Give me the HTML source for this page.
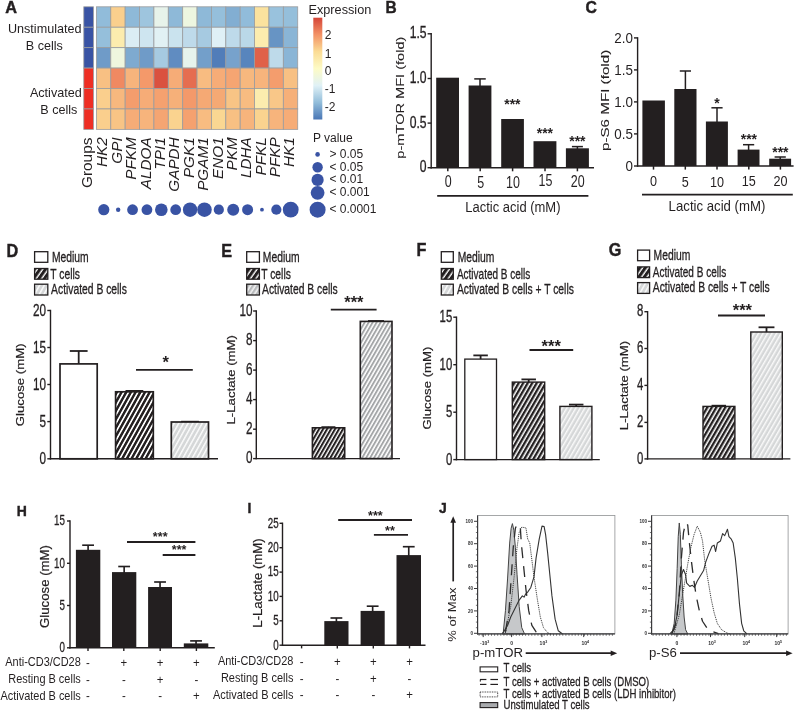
<!DOCTYPE html>
<html lang="en"><head><meta charset="utf-8"><title>Figure</title>
<style>html,body{margin:0;padding:0;background:#fff}svg{display:block}text{font-family:"Liberation Sans",Arial,sans-serif}</style>
</head><body>
<svg width="797" height="710" viewBox="0 0 797 710" font-family='"Liberation Sans", Arial, sans-serif' fill="#231f20">
<defs>
<pattern id="hk" width="3.45" height="10" patternUnits="userSpaceOnUse" patternTransform="rotate(30)"><rect width="3.45" height="10" fill="#fff"/><rect width="2.05" height="10" fill="#231f20"/></pattern>
<pattern id="hkF" width="3.9" height="10" patternUnits="userSpaceOnUse" patternTransform="rotate(30)"><rect width="3.9" height="10" fill="#fff"/><rect width="2.35" height="10" fill="#231f20"/></pattern>
<pattern id="hgF" width="3.9" height="10" patternUnits="userSpaceOnUse" patternTransform="rotate(30)"><rect width="3.9" height="10" fill="#d5d7d8"/><rect width="1.45" height="10" fill="#fafafa"/></pattern>
<pattern id="hmL" width="3.9" height="10" patternUnits="userSpaceOnUse" patternTransform="rotate(33)"><rect width="3.9" height="10" fill="#f2f2f2"/><rect width="2.3" height="10" fill="#b9bbbd"/></pattern>
<pattern id="hkL" x="1.2" width="4.5" height="10" patternUnits="userSpaceOnUse" patternTransform="rotate(35)"><rect width="4.5" height="10" fill="#fff"/><rect width="3.1" height="10" fill="#231f20"/></pattern>
<pattern id="hkD" width="4.1" height="10" patternUnits="userSpaceOnUse" patternTransform="rotate(29)"><rect width="4.1" height="10" fill="#fff"/><rect width="2.45" height="10" fill="#231f20"/></pattern>
<pattern id="hg" width="3.45" height="10" patternUnits="userSpaceOnUse" patternTransform="rotate(30)"><rect width="3.45" height="10" fill="#d6d8d9"/><rect width="1.0" height="10" fill="#f7f7f7"/></pattern>
<pattern id="hgD" width="4.1" height="10" patternUnits="userSpaceOnUse" patternTransform="rotate(29)"><rect width="4.1" height="10" fill="#d5d7d8"/><rect width="1.5" height="10" fill="#fafafa"/></pattern>
<pattern id="hm" width="3.45" height="10" patternUnits="userSpaceOnUse" patternTransform="rotate(30)"><rect width="3.45" height="10" fill="#fff"/><rect width="1.9" height="10" fill="#a4a6a8"/></pattern>
<linearGradient id="cb" x1="0" y1="0" x2="0" y2="1">
<stop offset="0" stop-color="#d54538"/><stop offset="0.1667" stop-color="#f39266"/><stop offset="0.3333" stop-color="#fbdc95"/><stop offset="0.5" stop-color="#fdfbc6"/><stop offset="0.6667" stop-color="#e0f1f6"/><stop offset="0.8333" stop-color="#92bdda"/><stop offset="1" stop-color="#4976b5"/>
</linearGradient>
</defs>
<text transform="translate(5.20 12.60)" font-size="16.3" font-weight="bold" stroke="#231f20" stroke-width="0.45">A</text>
<rect x="96.40" y="6.80" width="14.38" height="20.43" fill="#91bcda" stroke="#9a9c9e" stroke-width="0.8"/>
<rect x="110.78" y="6.80" width="14.38" height="20.43" fill="#facf8d" stroke="#9a9c9e" stroke-width="0.8"/>
<rect x="125.16" y="6.80" width="14.38" height="20.43" fill="#8eb9d8" stroke="#9a9c9e" stroke-width="0.8"/>
<rect x="139.54" y="6.80" width="14.38" height="20.43" fill="#9ec5de" stroke="#9a9c9e" stroke-width="0.8"/>
<rect x="153.92" y="6.80" width="14.38" height="20.43" fill="#e7f3ea" stroke="#9a9c9e" stroke-width="0.8"/>
<rect x="168.30" y="6.80" width="14.38" height="20.43" fill="#8eb9d8" stroke="#9a9c9e" stroke-width="0.8"/>
<rect x="182.68" y="6.80" width="14.38" height="20.43" fill="#edf6e0" stroke="#9a9c9e" stroke-width="0.8"/>
<rect x="197.06" y="6.80" width="14.38" height="20.43" fill="#8eb9d8" stroke="#9a9c9e" stroke-width="0.8"/>
<rect x="211.44" y="6.80" width="14.38" height="20.43" fill="#95bfdb" stroke="#9a9c9e" stroke-width="0.8"/>
<rect x="225.82" y="6.80" width="14.38" height="20.43" fill="#82aed2" stroke="#9a9c9e" stroke-width="0.8"/>
<rect x="240.20" y="6.80" width="14.38" height="20.43" fill="#91bcda" stroke="#9a9c9e" stroke-width="0.8"/>
<rect x="254.58" y="6.80" width="14.38" height="20.43" fill="#fbe29e" stroke="#9a9c9e" stroke-width="0.8"/>
<rect x="268.96" y="6.80" width="14.38" height="20.43" fill="#99c2dd" stroke="#9a9c9e" stroke-width="0.8"/>
<rect x="283.34" y="6.80" width="14.38" height="20.43" fill="#95bfdb" stroke="#9a9c9e" stroke-width="0.8"/>
<rect x="96.40" y="27.23" width="14.38" height="20.43" fill="#95bfdb" stroke="#9a9c9e" stroke-width="0.8"/>
<rect x="110.78" y="27.23" width="14.38" height="20.43" fill="#fcecae" stroke="#9a9c9e" stroke-width="0.8"/>
<rect x="125.16" y="27.23" width="14.38" height="20.43" fill="#dbedf4" stroke="#9a9c9e" stroke-width="0.8"/>
<rect x="139.54" y="27.23" width="14.38" height="20.43" fill="#cee5f0" stroke="#9a9c9e" stroke-width="0.8"/>
<rect x="153.92" y="27.23" width="14.38" height="20.43" fill="#e1f1f4" stroke="#9a9c9e" stroke-width="0.8"/>
<rect x="168.30" y="27.23" width="14.38" height="20.43" fill="#cae3ee" stroke="#9a9c9e" stroke-width="0.8"/>
<rect x="182.68" y="27.23" width="14.38" height="20.43" fill="#bedaea" stroke="#9a9c9e" stroke-width="0.8"/>
<rect x="197.06" y="27.23" width="14.38" height="20.43" fill="#a6cae1" stroke="#9a9c9e" stroke-width="0.8"/>
<rect x="211.44" y="27.23" width="14.38" height="20.43" fill="#dff0f6" stroke="#9a9c9e" stroke-width="0.8"/>
<rect x="225.82" y="27.23" width="14.38" height="20.43" fill="#bedaea" stroke="#9a9c9e" stroke-width="0.8"/>
<rect x="240.20" y="27.23" width="14.38" height="20.43" fill="#bad8e8" stroke="#9a9c9e" stroke-width="0.8"/>
<rect x="254.58" y="27.23" width="14.38" height="20.43" fill="#fcecae" stroke="#9a9c9e" stroke-width="0.8"/>
<rect x="268.96" y="27.23" width="14.38" height="20.43" fill="#6794c4" stroke="#9a9c9e" stroke-width="0.8"/>
<rect x="283.34" y="27.23" width="14.38" height="20.43" fill="#8ab5d6" stroke="#9a9c9e" stroke-width="0.8"/>
<rect x="96.40" y="47.66" width="14.38" height="20.43" fill="#6f9bc8" stroke="#9a9c9e" stroke-width="0.8"/>
<rect x="110.78" y="47.66" width="14.38" height="20.43" fill="#eff6de" stroke="#9a9c9e" stroke-width="0.8"/>
<rect x="125.16" y="47.66" width="14.38" height="20.43" fill="#7eaad0" stroke="#9a9c9e" stroke-width="0.8"/>
<rect x="139.54" y="47.66" width="14.38" height="20.43" fill="#6f9bc8" stroke="#9a9c9e" stroke-width="0.8"/>
<rect x="153.92" y="47.66" width="14.38" height="20.43" fill="#a6cae1" stroke="#9a9c9e" stroke-width="0.8"/>
<rect x="168.30" y="47.66" width="14.38" height="20.43" fill="#608cc1" stroke="#9a9c9e" stroke-width="0.8"/>
<rect x="182.68" y="47.66" width="14.38" height="20.43" fill="#e6f3ed" stroke="#9a9c9e" stroke-width="0.8"/>
<rect x="197.06" y="47.66" width="14.38" height="20.43" fill="#739fca" stroke="#9a9c9e" stroke-width="0.8"/>
<rect x="211.44" y="47.66" width="14.38" height="20.43" fill="#517db9" stroke="#9a9c9e" stroke-width="0.8"/>
<rect x="225.82" y="47.66" width="14.38" height="20.43" fill="#77a2cc" stroke="#9a9c9e" stroke-width="0.8"/>
<rect x="240.20" y="47.66" width="14.38" height="20.43" fill="#5885bd" stroke="#9a9c9e" stroke-width="0.8"/>
<rect x="254.58" y="47.66" width="14.38" height="20.43" fill="#e06149" stroke="#9a9c9e" stroke-width="0.8"/>
<rect x="268.96" y="47.66" width="14.38" height="20.43" fill="#bedaea" stroke="#9a9c9e" stroke-width="0.8"/>
<rect x="283.34" y="47.66" width="14.38" height="20.43" fill="#8ab5d6" stroke="#9a9c9e" stroke-width="0.8"/>
<rect x="96.40" y="68.09" width="14.38" height="20.43" fill="#f8c083" stroke="#9a9c9e" stroke-width="0.8"/>
<rect x="110.78" y="68.09" width="14.38" height="20.43" fill="#f08961" stroke="#9a9c9e" stroke-width="0.8"/>
<rect x="125.16" y="68.09" width="14.38" height="20.43" fill="#f7b47c" stroke="#9a9c9e" stroke-width="0.8"/>
<rect x="139.54" y="68.09" width="14.38" height="20.43" fill="#f4996a" stroke="#9a9c9e" stroke-width="0.8"/>
<rect x="153.92" y="68.09" width="14.38" height="20.43" fill="#da513f" stroke="#9a9c9e" stroke-width="0.8"/>
<rect x="168.30" y="68.09" width="14.38" height="20.43" fill="#f6ac77" stroke="#9a9c9e" stroke-width="0.8"/>
<rect x="182.68" y="68.09" width="14.38" height="20.43" fill="#e56d50" stroke="#9a9c9e" stroke-width="0.8"/>
<rect x="197.06" y="68.09" width="14.38" height="20.43" fill="#f8bc81" stroke="#9a9c9e" stroke-width="0.8"/>
<rect x="211.44" y="68.09" width="14.38" height="20.43" fill="#f6ac77" stroke="#9a9c9e" stroke-width="0.8"/>
<rect x="225.82" y="68.09" width="14.38" height="20.43" fill="#f5a572" stroke="#9a9c9e" stroke-width="0.8"/>
<rect x="240.20" y="68.09" width="14.38" height="20.43" fill="#f7b87e" stroke="#9a9c9e" stroke-width="0.8"/>
<rect x="254.58" y="68.09" width="14.38" height="20.43" fill="#f7b47c" stroke="#9a9c9e" stroke-width="0.8"/>
<rect x="268.96" y="68.09" width="14.38" height="20.43" fill="#f49d6d" stroke="#9a9c9e" stroke-width="0.8"/>
<rect x="283.34" y="68.09" width="14.38" height="20.43" fill="#f8c083" stroke="#9a9c9e" stroke-width="0.8"/>
<rect x="96.40" y="88.52" width="14.38" height="20.43" fill="#facf8d" stroke="#9a9c9e" stroke-width="0.8"/>
<rect x="110.78" y="88.52" width="14.38" height="20.43" fill="#f7b87e" stroke="#9a9c9e" stroke-width="0.8"/>
<rect x="125.16" y="88.52" width="14.38" height="20.43" fill="#f49d6d" stroke="#9a9c9e" stroke-width="0.8"/>
<rect x="139.54" y="88.52" width="14.38" height="20.43" fill="#f6ac77" stroke="#9a9c9e" stroke-width="0.8"/>
<rect x="153.92" y="88.52" width="14.38" height="20.43" fill="#f5a16f" stroke="#9a9c9e" stroke-width="0.8"/>
<rect x="168.30" y="88.52" width="14.38" height="20.43" fill="#f6b079" stroke="#9a9c9e" stroke-width="0.8"/>
<rect x="182.68" y="88.52" width="14.38" height="20.43" fill="#f4996a" stroke="#9a9c9e" stroke-width="0.8"/>
<rect x="197.06" y="88.52" width="14.38" height="20.43" fill="#f5a974" stroke="#9a9c9e" stroke-width="0.8"/>
<rect x="211.44" y="88.52" width="14.38" height="20.43" fill="#f5a974" stroke="#9a9c9e" stroke-width="0.8"/>
<rect x="225.82" y="88.52" width="14.38" height="20.43" fill="#f8c485" stroke="#9a9c9e" stroke-width="0.8"/>
<rect x="240.20" y="88.52" width="14.38" height="20.43" fill="#f8bc81" stroke="#9a9c9e" stroke-width="0.8"/>
<rect x="254.58" y="88.52" width="14.38" height="20.43" fill="#fcecae" stroke="#9a9c9e" stroke-width="0.8"/>
<rect x="268.96" y="88.52" width="14.38" height="20.43" fill="#f9c788" stroke="#9a9c9e" stroke-width="0.8"/>
<rect x="283.34" y="88.52" width="14.38" height="20.43" fill="#f6b079" stroke="#9a9c9e" stroke-width="0.8"/>
<rect x="96.40" y="108.95" width="14.38" height="20.43" fill="#facf8d" stroke="#9a9c9e" stroke-width="0.8"/>
<rect x="110.78" y="108.95" width="14.38" height="20.43" fill="#f8c485" stroke="#9a9c9e" stroke-width="0.8"/>
<rect x="125.16" y="108.95" width="14.38" height="20.43" fill="#f6ac77" stroke="#9a9c9e" stroke-width="0.8"/>
<rect x="139.54" y="108.95" width="14.38" height="20.43" fill="#f7b47c" stroke="#9a9c9e" stroke-width="0.8"/>
<rect x="153.92" y="108.95" width="14.38" height="20.43" fill="#f5a572" stroke="#9a9c9e" stroke-width="0.8"/>
<rect x="168.30" y="108.95" width="14.38" height="20.43" fill="#fad38f" stroke="#9a9c9e" stroke-width="0.8"/>
<rect x="182.68" y="108.95" width="14.38" height="20.43" fill="#f5a16f" stroke="#9a9c9e" stroke-width="0.8"/>
<rect x="197.06" y="108.95" width="14.38" height="20.43" fill="#f8bc81" stroke="#9a9c9e" stroke-width="0.8"/>
<rect x="211.44" y="108.95" width="14.38" height="20.43" fill="#fad792" stroke="#9a9c9e" stroke-width="0.8"/>
<rect x="225.82" y="108.95" width="14.38" height="20.43" fill="#f8c083" stroke="#9a9c9e" stroke-width="0.8"/>
<rect x="240.20" y="108.95" width="14.38" height="20.43" fill="#f7b47c" stroke="#9a9c9e" stroke-width="0.8"/>
<rect x="254.58" y="108.95" width="14.38" height="20.43" fill="#fad38f" stroke="#9a9c9e" stroke-width="0.8"/>
<rect x="268.96" y="108.95" width="14.38" height="20.43" fill="#f7b47c" stroke="#9a9c9e" stroke-width="0.8"/>
<rect x="283.34" y="108.95" width="14.38" height="20.43" fill="#f6ac77" stroke="#9a9c9e" stroke-width="0.8"/>
<rect x="83.80" y="6.80" width="9.60" height="20.43" fill="#3953a4" stroke="#9a9c9e" stroke-width="0.8"/>
<rect x="83.80" y="27.23" width="9.60" height="20.43" fill="#3953a4" stroke="#9a9c9e" stroke-width="0.8"/>
<rect x="83.80" y="47.66" width="9.60" height="20.43" fill="#3953a4" stroke="#9a9c9e" stroke-width="0.8"/>
<rect x="83.80" y="68.09" width="9.60" height="20.43" fill="#ee2e24" stroke="#9a9c9e" stroke-width="0.8"/>
<rect x="83.80" y="88.52" width="9.60" height="20.43" fill="#ee2e24" stroke="#9a9c9e" stroke-width="0.8"/>
<rect x="83.80" y="108.95" width="9.60" height="20.43" fill="#ee2e24" stroke="#9a9c9e" stroke-width="0.8"/>
<text transform="translate(44.70 33.00)" font-size="12.6" text-anchor="middle">Unstimulated</text>
<text transform="translate(44.30 49.80)" font-size="12.6" text-anchor="middle">B cells</text>
<text transform="translate(55.80 97.00)" font-size="12.6" text-anchor="middle">Activated</text>
<text transform="translate(58.80 114.10)" font-size="12.6" text-anchor="middle">B cells</text>
<text transform="translate(92.10 137.60) rotate(-90)" font-size="15.4" text-anchor="end">Groups</text>
<text transform="translate(107.49 137.30) rotate(-90)" font-size="15.3" text-anchor="end" font-style="italic">HK2</text>
<text transform="translate(121.87 137.30) rotate(-90)" font-size="15.3" text-anchor="end" font-style="italic">GPI</text>
<text transform="translate(136.25 137.30) rotate(-90)" font-size="15.3" text-anchor="end" font-style="italic">PFKM</text>
<text transform="translate(150.63 137.30) rotate(-90)" font-size="15.3" text-anchor="end" font-style="italic">ALDOA</text>
<text transform="translate(165.01 137.30) rotate(-90)" font-size="15.3" text-anchor="end" font-style="italic">TPI1</text>
<text transform="translate(179.39 137.30) rotate(-90)" font-size="15.3" text-anchor="end" font-style="italic">GAPDH</text>
<text transform="translate(193.77 137.30) rotate(-90)" font-size="15.3" text-anchor="end" font-style="italic">PGK1</text>
<text transform="translate(208.15 137.30) rotate(-90)" font-size="15.3" text-anchor="end" font-style="italic">PGAM1</text>
<text transform="translate(222.53 137.30) rotate(-90)" font-size="15.3" text-anchor="end" font-style="italic">ENO1</text>
<text transform="translate(236.91 137.30) rotate(-90)" font-size="15.3" text-anchor="end" font-style="italic">PKM</text>
<text transform="translate(251.29 137.30) rotate(-90)" font-size="15.3" text-anchor="end" font-style="italic">LDHA</text>
<text transform="translate(265.67 137.30) rotate(-90)" font-size="15.3" text-anchor="end" font-style="italic">PFKL</text>
<text transform="translate(280.05 137.30) rotate(-90)" font-size="15.3" text-anchor="end" font-style="italic">PFKP</text>
<text transform="translate(294.43 137.30) rotate(-90)" font-size="15.3" text-anchor="end" font-style="italic">HK1</text>
<circle cx="103.79" cy="209.70" r="5.60" fill="#3953a4"/>
<circle cx="118.17" cy="209.70" r="2.20" fill="#3953a4"/>
<circle cx="132.55" cy="209.70" r="5.40" fill="#3953a4"/>
<circle cx="146.93" cy="209.70" r="5.40" fill="#3953a4"/>
<circle cx="161.31" cy="209.70" r="6.30" fill="#3953a4"/>
<circle cx="175.69" cy="209.70" r="5.40" fill="#3953a4"/>
<circle cx="190.07" cy="209.70" r="7.20" fill="#3953a4"/>
<circle cx="204.45" cy="209.70" r="7.30" fill="#3953a4"/>
<circle cx="218.83" cy="209.70" r="5.10" fill="#3953a4"/>
<circle cx="233.21" cy="209.70" r="6.00" fill="#3953a4"/>
<circle cx="247.59" cy="209.70" r="5.50" fill="#3953a4"/>
<circle cx="261.97" cy="209.70" r="1.90" fill="#3953a4"/>
<circle cx="276.35" cy="209.70" r="5.10" fill="#3953a4"/>
<circle cx="290.73" cy="209.70" r="7.90" fill="#3953a4"/>
<text transform="translate(308.50 13.70)" font-size="12.7">Expression</text>
<rect x="313.30" y="17.70" width="9.00" height="101.80" fill="url(#cb)"/>
<text transform="translate(324.80 38.70)" font-size="12">2</text>
<text transform="translate(324.80 57.80)" font-size="12">1</text>
<text transform="translate(324.80 75.20)" font-size="12">0</text>
<text transform="translate(324.80 93.10)" font-size="12">-1</text>
<text transform="translate(324.80 110.50)" font-size="12">-2</text>
<text transform="translate(312.90 142.00)" font-size="12">P value</text>
<circle cx="317.60" cy="154.40" r="2.30" fill="#3953a4"/>
<text transform="translate(329.40 157.70)" font-size="12">&gt; 0.05</text>
<circle cx="317.60" cy="167.20" r="5.20" fill="#3953a4"/>
<text transform="translate(329.40 170.50)" font-size="12">&lt; 0.05</text>
<circle cx="317.60" cy="179.90" r="6.10" fill="#3953a4"/>
<text transform="translate(329.40 183.20)" font-size="12">&lt; 0.01</text>
<circle cx="317.60" cy="192.80" r="6.90" fill="#3953a4"/>
<text transform="translate(329.40 196.10)" font-size="12">&lt; 0.001</text>
<circle cx="317.60" cy="209.70" r="8.00" fill="#3953a4"/>
<text transform="translate(329.40 213.00)" font-size="12">&lt; 0.0001</text>
<text transform="translate(385.60 12.80) scale(0.95 1)" font-size="16.3" font-weight="bold" stroke="#231f20" stroke-width="0.45">B</text>
<line x1="430.50" y1="167.70" x2="594.00" y2="167.70" stroke="#231f20" stroke-width="1.5"/>
<line x1="431.20" y1="33.10" x2="431.20" y2="168.40" stroke="#231f20" stroke-width="1.4"/>
<line x1="427.60" y1="33.80" x2="431.20" y2="33.80" stroke="#231f20" stroke-width="1.4"/>
<text transform="translate(426.60 38.40) scale(0.77 1)" font-size="15.8" text-anchor="end" stroke="#231f20" stroke-width="0.32">1.5</text>
<line x1="427.60" y1="78.50" x2="431.20" y2="78.50" stroke="#231f20" stroke-width="1.4"/>
<text transform="translate(426.60 83.10) scale(0.77 1)" font-size="15.8" text-anchor="end" stroke="#231f20" stroke-width="0.32">1.0</text>
<line x1="427.60" y1="123.10" x2="431.20" y2="123.10" stroke="#231f20" stroke-width="1.4"/>
<text transform="translate(426.60 127.70) scale(0.77 1)" font-size="15.8" text-anchor="end" stroke="#231f20" stroke-width="0.32">0.5</text>
<line x1="427.60" y1="167.70" x2="431.20" y2="167.70" stroke="#231f20" stroke-width="1.4"/>
<text transform="translate(426.60 172.30) scale(0.77 1)" font-size="15.8" text-anchor="end" stroke="#231f20" stroke-width="0.32">0</text>
<text transform="translate(403.90 97.60) rotate(-90) scale(1 0.74)" font-size="14.6" text-anchor="middle" stroke="#231f20" stroke-width="0.12">p-mTOR MFI (fold)</text>
<rect x="436.20" y="77.70" width="22.80" height="90.00" fill="#231f20"/>
<rect x="468.60" y="85.50" width="22.80" height="82.20" fill="#231f20"/>
<rect x="501.20" y="119.00" width="22.70" height="48.70" fill="#231f20"/>
<rect x="533.50" y="141.20" width="22.90" height="26.50" fill="#231f20"/>
<rect x="565.90" y="148.30" width="23.00" height="19.40" fill="#231f20"/>
<line x1="480.00" y1="78.90" x2="480.00" y2="86.50" stroke="#231f20" stroke-width="1.5"/>
<line x1="474.25" y1="78.90" x2="485.75" y2="78.90" stroke="#231f20" stroke-width="1.5"/>
<line x1="577.40" y1="146.60" x2="577.40" y2="149.00" stroke="#231f20" stroke-width="1.5"/>
<line x1="571.90" y1="146.60" x2="582.90" y2="146.60" stroke="#231f20" stroke-width="1.5"/>
<line x1="447.80" y1="167.70" x2="447.80" y2="171.30" stroke="#231f20" stroke-width="1.5"/>
<text transform="translate(448.20 187.00) scale(0.8 1)" font-size="15.6" text-anchor="middle">0</text>
<line x1="480.20" y1="167.70" x2="480.20" y2="171.30" stroke="#231f20" stroke-width="1.5"/>
<text transform="translate(480.60 188.00) scale(0.8 1)" font-size="15.6" text-anchor="middle">5</text>
<line x1="512.60" y1="167.70" x2="512.60" y2="171.30" stroke="#231f20" stroke-width="1.5"/>
<text transform="translate(513.00 188.00) scale(0.8 1)" font-size="15.6" text-anchor="middle">10</text>
<line x1="545.00" y1="167.70" x2="545.00" y2="171.30" stroke="#231f20" stroke-width="1.5"/>
<text transform="translate(545.40 186.30) scale(0.8 1)" font-size="15.6" text-anchor="middle">15</text>
<line x1="577.40" y1="167.70" x2="577.40" y2="171.30" stroke="#231f20" stroke-width="1.5"/>
<text transform="translate(577.80 187.00) scale(0.8 1)" font-size="15.6" text-anchor="middle">20</text>
<text transform="translate(512.40 109.21)" font-size="14" text-anchor="middle" font-weight="bold">***</text>
<text transform="translate(544.90 137.81)" font-size="14" text-anchor="middle" font-weight="bold">***</text>
<text transform="translate(577.40 145.81)" font-size="14" text-anchor="middle" font-weight="bold">***</text>
<line x1="437.20" y1="195.80" x2="588.40" y2="195.80" stroke="#231f20" stroke-width="1.8"/>
<text transform="translate(512.90 212.40) scale(0.915 1)" font-size="14.2" text-anchor="middle">Lactic acid (mM)</text>
<text transform="translate(585.40 13.30) scale(0.97 1)" font-size="16.3" font-weight="bold" stroke="#231f20" stroke-width="0.45">C</text>
<line x1="636.90" y1="166.00" x2="793.60" y2="166.00" stroke="#231f20" stroke-width="1.5"/>
<line x1="637.60" y1="37.20" x2="637.60" y2="166.70" stroke="#231f20" stroke-width="1.4"/>
<line x1="634.00" y1="37.90" x2="637.60" y2="37.90" stroke="#231f20" stroke-width="1.4"/>
<text transform="translate(632.90 42.80) scale(0.88 1)" font-size="15.2" text-anchor="end">2.0</text>
<line x1="634.00" y1="69.90" x2="637.60" y2="69.90" stroke="#231f20" stroke-width="1.4"/>
<text transform="translate(632.90 74.80) scale(0.88 1)" font-size="15.2" text-anchor="end">1.5</text>
<line x1="634.00" y1="101.90" x2="637.60" y2="101.90" stroke="#231f20" stroke-width="1.4"/>
<text transform="translate(632.90 106.80) scale(0.88 1)" font-size="15.2" text-anchor="end">1.0</text>
<line x1="634.00" y1="133.90" x2="637.60" y2="133.90" stroke="#231f20" stroke-width="1.4"/>
<text transform="translate(632.90 138.80) scale(0.88 1)" font-size="15.2" text-anchor="end">0.5</text>
<line x1="634.00" y1="166.00" x2="637.60" y2="166.00" stroke="#231f20" stroke-width="1.4"/>
<text transform="translate(632.90 170.90) scale(0.88 1)" font-size="15.2" text-anchor="end">0</text>
<text transform="translate(609.00 100.40) rotate(-90) scale(1 0.74)" font-size="15.2" text-anchor="middle" stroke="#231f20" stroke-width="0.12">p-S6 MFI (fold)</text>
<rect x="642.40" y="100.50" width="22.50" height="65.50" fill="#231f20"/>
<rect x="674.30" y="89.00" width="22.20" height="77.00" fill="#231f20"/>
<rect x="705.90" y="121.50" width="22.00" height="44.50" fill="#231f20"/>
<rect x="737.60" y="149.60" width="21.90" height="16.40" fill="#231f20"/>
<rect x="769.20" y="158.70" width="21.90" height="7.30" fill="#231f20"/>
<line x1="685.40" y1="71.00" x2="685.40" y2="90.00" stroke="#231f20" stroke-width="1.5"/>
<line x1="679.80" y1="71.00" x2="691.00" y2="71.00" stroke="#231f20" stroke-width="1.5"/>
<line x1="717.00" y1="107.80" x2="717.00" y2="122.00" stroke="#231f20" stroke-width="1.5"/>
<line x1="711.40" y1="107.80" x2="722.60" y2="107.80" stroke="#231f20" stroke-width="1.5"/>
<line x1="748.60" y1="144.70" x2="748.60" y2="150.00" stroke="#231f20" stroke-width="1.5"/>
<line x1="743.00" y1="144.70" x2="754.20" y2="144.70" stroke="#231f20" stroke-width="1.5"/>
<line x1="780.20" y1="157.00" x2="780.20" y2="159.00" stroke="#231f20" stroke-width="1.5"/>
<line x1="774.60" y1="157.00" x2="785.80" y2="157.00" stroke="#231f20" stroke-width="1.5"/>
<line x1="653.50" y1="166.00" x2="653.50" y2="169.60" stroke="#231f20" stroke-width="1.5"/>
<text transform="translate(653.50 186.30) scale(0.82 1)" font-size="15.4" text-anchor="middle">0</text>
<line x1="685.30" y1="166.00" x2="685.30" y2="169.60" stroke="#231f20" stroke-width="1.5"/>
<text transform="translate(685.30 187.20) scale(0.82 1)" font-size="15.4" text-anchor="middle">5</text>
<line x1="717.00" y1="166.00" x2="717.00" y2="169.60" stroke="#231f20" stroke-width="1.5"/>
<text transform="translate(717.00 187.30) scale(0.82 1)" font-size="15.4" text-anchor="middle">10</text>
<line x1="748.80" y1="166.00" x2="748.80" y2="169.60" stroke="#231f20" stroke-width="1.5"/>
<text transform="translate(748.80 185.50) scale(0.82 1)" font-size="15.4" text-anchor="middle">15</text>
<line x1="780.40" y1="166.00" x2="780.40" y2="169.60" stroke="#231f20" stroke-width="1.5"/>
<text transform="translate(780.40 186.30) scale(0.82 1)" font-size="15.4" text-anchor="middle">20</text>
<text transform="translate(716.90 107.71)" font-size="14" text-anchor="middle" font-weight="bold">*</text>
<text transform="translate(748.90 143.91)" font-size="14" text-anchor="middle" font-weight="bold">***</text>
<text transform="translate(780.40 156.91)" font-size="14" text-anchor="middle" font-weight="bold">***</text>
<line x1="642.00" y1="194.60" x2="792.80" y2="194.60" stroke="#231f20" stroke-width="1.9"/>
<text transform="translate(717.00 211.40) scale(0.93 1)" font-size="14.2" text-anchor="middle">Lactic acid (mM)</text>
<text transform="translate(6.40 257.00) scale(0.9 1)" font-size="18" font-weight="bold" stroke="#231f20" stroke-width="0.45">D</text>
<rect x="34.60" y="251.70" width="13.20" height="10.60" fill="#fff" stroke="#231f20" stroke-width="1.3"/>
<text transform="translate(51.90 261.50) scale(0.722 1)" font-size="14.3" stroke="#231f20" stroke-width="0.32">Medium</text>
<rect x="34.60" y="268.50" width="13.20" height="10.70" fill="url(#hkL)" stroke="#231f20" stroke-width="1.3"/>
<text transform="translate(50.30 278.60) scale(0.722 1)" font-size="14.3" stroke="#231f20" stroke-width="0.32">T cells</text>
<rect x="34.60" y="284.20" width="13.20" height="10.80" fill="url(#hgD)" stroke="#231f20" stroke-width="1.3"/>
<text transform="translate(51.10 294.00) scale(0.722 1)" font-size="14.3" stroke="#231f20" stroke-width="0.32">Activated B cells</text>
<line x1="49.80" y1="458.80" x2="218.00" y2="458.80" stroke="#231f20" stroke-width="1.4"/>
<line x1="50.50" y1="309.80" x2="50.50" y2="459.50" stroke="#231f20" stroke-width="1.4"/>
<line x1="47.30" y1="310.50" x2="50.50" y2="310.50" stroke="#231f20" stroke-width="1.4"/>
<text transform="translate(46.00 315.50) scale(0.69 1)" font-size="17" text-anchor="end" stroke="#231f20" stroke-width="0.32">20</text>
<line x1="47.30" y1="347.50" x2="50.50" y2="347.50" stroke="#231f20" stroke-width="1.4"/>
<text transform="translate(46.00 352.50) scale(0.69 1)" font-size="17" text-anchor="end" stroke="#231f20" stroke-width="0.32">15</text>
<line x1="47.30" y1="384.50" x2="50.50" y2="384.50" stroke="#231f20" stroke-width="1.4"/>
<text transform="translate(46.00 389.50) scale(0.69 1)" font-size="17" text-anchor="end" stroke="#231f20" stroke-width="0.32">10</text>
<line x1="47.30" y1="421.60" x2="50.50" y2="421.60" stroke="#231f20" stroke-width="1.4"/>
<text transform="translate(46.00 426.60) scale(0.69 1)" font-size="17" text-anchor="end" stroke="#231f20" stroke-width="0.32">5</text>
<line x1="47.30" y1="458.80" x2="50.50" y2="458.80" stroke="#231f20" stroke-width="1.4"/>
<text transform="translate(46.00 463.80) scale(0.69 1)" font-size="17" text-anchor="end" stroke="#231f20" stroke-width="0.32">0</text>
<text transform="translate(24.20 384.80) rotate(-90) scale(1 0.88)" font-size="13.2" text-anchor="middle" stroke="#231f20" stroke-width="0.22">Glucose (mM)</text>
<line x1="78.70" y1="351.00" x2="78.70" y2="364.00" stroke="#231f20" stroke-width="1.8"/>
<line x1="69.80" y1="351.00" x2="87.60" y2="351.00" stroke="#231f20" stroke-width="1.8"/>
<rect x="60.00" y="363.90" width="37.20" height="94.90" fill="#fff" stroke="#231f20" stroke-width="1.7"/>
<line x1="134.40" y1="390.60" x2="134.40" y2="392.00" stroke="#231f20" stroke-width="1.2"/>
<line x1="125.50" y1="390.60" x2="143.30" y2="390.60" stroke="#231f20" stroke-width="1.2"/>
<rect x="115.60" y="391.80" width="37.70" height="67.00" fill="url(#hkD)" stroke="#231f20" stroke-width="1.7"/>
<line x1="190.00" y1="421.40" x2="190.00" y2="423.00" stroke="#231f20" stroke-width="1.2"/>
<line x1="181.10" y1="421.40" x2="198.90" y2="421.40" stroke="#231f20" stroke-width="1.2"/>
<rect x="171.30" y="422.00" width="37.20" height="36.80" fill="url(#hgD)" stroke="#231f20" stroke-width="1.7"/>
<line x1="136.00" y1="369.90" x2="192.80" y2="369.90" stroke="#231f20" stroke-width="1.9"/>
<text transform="translate(165.60 367.67)" font-size="16.5" text-anchor="middle" font-weight="bold">*</text>
<text transform="translate(221.30 256.50) scale(0.9 1)" font-size="18" font-weight="bold" stroke="#231f20" stroke-width="0.45">E</text>
<rect x="246.70" y="251.70" width="12.70" height="10.60" fill="#fff" stroke="#231f20" stroke-width="1.3"/>
<text transform="translate(262.80 261.50) scale(0.722 1)" font-size="14.3" stroke="#231f20" stroke-width="0.32">Medium</text>
<rect x="246.70" y="268.50" width="12.70" height="10.70" fill="url(#hkL)" stroke="#231f20" stroke-width="1.3"/>
<text transform="translate(261.20 278.60) scale(0.722 1)" font-size="14.3" stroke="#231f20" stroke-width="0.32">T cells</text>
<rect x="246.70" y="284.20" width="12.70" height="10.80" fill="url(#hmL)" stroke="#231f20" stroke-width="1.3"/>
<text transform="translate(262.00 294.00) scale(0.722 1)" font-size="14.3" stroke="#231f20" stroke-width="0.32">Activated B cells</text>
<line x1="255.60" y1="458.60" x2="400.00" y2="458.60" stroke="#231f20" stroke-width="1.4"/>
<line x1="256.30" y1="310.30" x2="256.30" y2="459.30" stroke="#231f20" stroke-width="1.4"/>
<line x1="253.10" y1="311.00" x2="256.30" y2="311.00" stroke="#231f20" stroke-width="1.4"/>
<text transform="translate(252.60 315.70) scale(0.69 1)" font-size="17" text-anchor="end" stroke="#231f20" stroke-width="0.32">10</text>
<line x1="253.10" y1="340.60" x2="256.30" y2="340.60" stroke="#231f20" stroke-width="1.4"/>
<text transform="translate(252.60 345.30) scale(0.69 1)" font-size="17" text-anchor="end" stroke="#231f20" stroke-width="0.32">8</text>
<line x1="253.10" y1="370.10" x2="256.30" y2="370.10" stroke="#231f20" stroke-width="1.4"/>
<text transform="translate(252.60 374.80) scale(0.69 1)" font-size="17" text-anchor="end" stroke="#231f20" stroke-width="0.32">6</text>
<line x1="253.10" y1="399.60" x2="256.30" y2="399.60" stroke="#231f20" stroke-width="1.4"/>
<text transform="translate(252.60 404.30) scale(0.69 1)" font-size="17" text-anchor="end" stroke="#231f20" stroke-width="0.32">4</text>
<line x1="253.10" y1="429.20" x2="256.30" y2="429.20" stroke="#231f20" stroke-width="1.4"/>
<text transform="translate(252.60 433.90) scale(0.69 1)" font-size="17" text-anchor="end" stroke="#231f20" stroke-width="0.32">2</text>
<line x1="253.10" y1="458.60" x2="256.30" y2="458.60" stroke="#231f20" stroke-width="1.4"/>
<text transform="translate(252.60 463.30) scale(0.69 1)" font-size="17" text-anchor="end" stroke="#231f20" stroke-width="0.32">0</text>
<text transform="translate(235.40 379.80) rotate(-90) scale(1 0.86)" font-size="13.2" text-anchor="middle" stroke="#231f20" stroke-width="0.22">L-Lactate (mM)</text>
<line x1="328.40" y1="426.80" x2="328.40" y2="428.00" stroke="#231f20" stroke-width="1.1"/>
<line x1="321.40" y1="426.80" x2="335.40" y2="426.80" stroke="#231f20" stroke-width="1.1"/>
<rect x="312.40" y="427.80" width="32.30" height="30.80" fill="url(#hk)" stroke="#231f20" stroke-width="1.6"/>
<line x1="376.00" y1="320.70" x2="376.00" y2="322.00" stroke="#231f20" stroke-width="1.2"/>
<line x1="368.00" y1="320.70" x2="384.00" y2="320.70" stroke="#231f20" stroke-width="1.2"/>
<rect x="360.30" y="321.40" width="31.70" height="137.20" fill="url(#hm)" stroke="#231f20" stroke-width="1.6"/>
<line x1="330.80" y1="309.60" x2="376.60" y2="309.60" stroke="#231f20" stroke-width="1.9"/>
<text transform="translate(353.90 307.57)" font-size="16.5" text-anchor="middle" font-weight="bold">***</text>
<text transform="translate(416.40 256.20) scale(0.9 1)" font-size="18" font-weight="bold" stroke="#231f20" stroke-width="0.45">F</text>
<rect x="441.30" y="251.70" width="12.00" height="10.60" fill="#fff" stroke="#231f20" stroke-width="1.3"/>
<text transform="translate(457.70 261.50) scale(0.722 1)" font-size="14.3" stroke="#231f20" stroke-width="0.32">Medium</text>
<rect x="441.30" y="268.50" width="12.00" height="10.70" fill="url(#hkL)" stroke="#231f20" stroke-width="1.3"/>
<text transform="translate(456.90 278.60) scale(0.7 1)" font-size="14.3" stroke="#231f20" stroke-width="0.32">Activated B cells</text>
<rect x="441.30" y="284.20" width="12.00" height="10.80" fill="url(#hgD)" stroke="#231f20" stroke-width="1.3"/>
<text transform="translate(456.90 294.00) scale(0.722 1)" font-size="14.3" stroke="#231f20" stroke-width="0.32">Activated B cells + T cells</text>
<line x1="455.80" y1="459.60" x2="599.80" y2="459.60" stroke="#231f20" stroke-width="1.4"/>
<line x1="456.50" y1="316.50" x2="456.50" y2="460.30" stroke="#231f20" stroke-width="1.4"/>
<line x1="453.30" y1="317.20" x2="456.50" y2="317.20" stroke="#231f20" stroke-width="1.4"/>
<text transform="translate(452.20 322.20) scale(0.7 1)" font-size="16.2" text-anchor="end" stroke="#231f20" stroke-width="0.32">15</text>
<line x1="453.30" y1="364.70" x2="456.50" y2="364.70" stroke="#231f20" stroke-width="1.4"/>
<text transform="translate(452.20 369.70) scale(0.7 1)" font-size="16.2" text-anchor="end" stroke="#231f20" stroke-width="0.32">10</text>
<line x1="453.30" y1="412.20" x2="456.50" y2="412.20" stroke="#231f20" stroke-width="1.4"/>
<text transform="translate(452.20 417.20) scale(0.7 1)" font-size="16.2" text-anchor="end" stroke="#231f20" stroke-width="0.32">5</text>
<line x1="453.30" y1="459.60" x2="456.50" y2="459.60" stroke="#231f20" stroke-width="1.4"/>
<text transform="translate(452.20 464.60) scale(0.7 1)" font-size="16.2" text-anchor="end" stroke="#231f20" stroke-width="0.32">0</text>
<text transform="translate(431.40 388.00) rotate(-90) scale(1 0.88)" font-size="13.2" text-anchor="middle" stroke="#231f20" stroke-width="0.22">Glucose (mM)</text>
<line x1="480.60" y1="355.40" x2="480.60" y2="360.00" stroke="#231f20" stroke-width="1.8"/>
<line x1="473.35" y1="355.40" x2="487.85" y2="355.40" stroke="#231f20" stroke-width="1.8"/>
<rect x="464.80" y="359.10" width="31.70" height="100.50" fill="#fff" stroke="#231f20" stroke-width="1.3"/>
<line x1="528.70" y1="379.40" x2="528.70" y2="383.00" stroke="#231f20" stroke-width="1.8"/>
<line x1="521.45" y1="379.40" x2="535.95" y2="379.40" stroke="#231f20" stroke-width="1.8"/>
<rect x="512.30" y="382.10" width="32.40" height="77.50" fill="url(#hkF)" stroke="#231f20" stroke-width="1.4"/>
<line x1="576.20" y1="404.60" x2="576.20" y2="407.00" stroke="#231f20" stroke-width="1.8"/>
<line x1="568.95" y1="404.60" x2="583.45" y2="404.60" stroke="#231f20" stroke-width="1.8"/>
<rect x="559.90" y="406.40" width="32.00" height="53.20" fill="url(#hgF)" stroke="#231f20" stroke-width="1.4"/>
<line x1="529.50" y1="350.00" x2="573.20" y2="350.00" stroke="#231f20" stroke-width="1.9"/>
<text transform="translate(551.20 351.77)" font-size="16.5" text-anchor="middle" font-weight="bold">***</text>
<text transform="translate(608.80 256.40) scale(0.9 1)" font-size="18" font-weight="bold" stroke="#231f20" stroke-width="0.45">G</text>
<rect x="637.60" y="250.10" width="12.00" height="10.60" fill="#fff" stroke="#231f20" stroke-width="1.3"/>
<text transform="translate(653.60 259.90) scale(0.722 1)" font-size="14.3" stroke="#231f20" stroke-width="0.32">Medium</text>
<rect x="637.60" y="266.90" width="12.00" height="10.70" fill="url(#hkL)" stroke="#231f20" stroke-width="1.3"/>
<text transform="translate(652.80 277.00) scale(0.7 1)" font-size="14.3" stroke="#231f20" stroke-width="0.32">Activated B cells</text>
<rect x="637.60" y="282.60" width="12.00" height="10.80" fill="url(#hgD)" stroke="#231f20" stroke-width="1.3"/>
<text transform="translate(652.80 292.40) scale(0.722 1)" font-size="14.3" stroke="#231f20" stroke-width="0.32">Activated B cells + T cells</text>
<line x1="646.90" y1="458.90" x2="790.40" y2="458.90" stroke="#231f20" stroke-width="1.4"/>
<line x1="647.60" y1="311.00" x2="647.60" y2="459.60" stroke="#231f20" stroke-width="1.4"/>
<line x1="644.40" y1="311.70" x2="647.60" y2="311.70" stroke="#231f20" stroke-width="1.4"/>
<text transform="translate(643.20 316.30) scale(0.7 1)" font-size="16.2" text-anchor="end" stroke="#231f20" stroke-width="0.32">8</text>
<line x1="644.40" y1="348.50" x2="647.60" y2="348.50" stroke="#231f20" stroke-width="1.4"/>
<text transform="translate(643.20 353.10) scale(0.7 1)" font-size="16.2" text-anchor="end" stroke="#231f20" stroke-width="0.32">6</text>
<line x1="644.40" y1="385.40" x2="647.60" y2="385.40" stroke="#231f20" stroke-width="1.4"/>
<text transform="translate(643.20 390.00) scale(0.7 1)" font-size="16.2" text-anchor="end" stroke="#231f20" stroke-width="0.32">4</text>
<line x1="644.40" y1="422.40" x2="647.60" y2="422.40" stroke="#231f20" stroke-width="1.4"/>
<text transform="translate(643.20 427.00) scale(0.7 1)" font-size="16.2" text-anchor="end" stroke="#231f20" stroke-width="0.32">2</text>
<line x1="644.40" y1="458.90" x2="647.60" y2="458.90" stroke="#231f20" stroke-width="1.4"/>
<text transform="translate(643.20 463.50) scale(0.7 1)" font-size="16.2" text-anchor="end" stroke="#231f20" stroke-width="0.32">0</text>
<text transform="translate(627.60 385.50) rotate(-90) scale(1 0.88)" font-size="13.2" text-anchor="middle" stroke="#231f20" stroke-width="0.22">L-Lactate (mM)</text>
<line x1="718.80" y1="405.40" x2="718.80" y2="407.00" stroke="#231f20" stroke-width="1.2"/>
<line x1="711.55" y1="405.40" x2="726.05" y2="405.40" stroke="#231f20" stroke-width="1.2"/>
<rect x="703.00" y="406.40" width="31.90" height="52.50" fill="url(#hkF)" stroke="#231f20" stroke-width="1.4"/>
<line x1="766.50" y1="327.30" x2="766.50" y2="333.00" stroke="#231f20" stroke-width="1.8"/>
<line x1="758.55" y1="327.30" x2="774.45" y2="327.30" stroke="#231f20" stroke-width="1.8"/>
<rect x="750.80" y="332.00" width="31.50" height="126.90" fill="url(#hgF)" stroke="#231f20" stroke-width="1.4"/>
<line x1="718.00" y1="315.50" x2="765.00" y2="315.50" stroke="#231f20" stroke-width="1.9"/>
<text transform="translate(742.40 315.87)" font-size="16.5" text-anchor="middle" font-weight="bold">***</text>
<text transform="translate(16.80 515.80) scale(0.92 1)" font-size="15.2" font-weight="bold" stroke="#231f20" stroke-width="0.45">H</text>
<line x1="69.30" y1="647.80" x2="214.80" y2="647.80" stroke="#231f20" stroke-width="1.4"/>
<line x1="70.00" y1="520.30" x2="70.00" y2="648.50" stroke="#231f20" stroke-width="1.4"/>
<line x1="67.00" y1="521.00" x2="70.00" y2="521.00" stroke="#231f20" stroke-width="1.4"/>
<text transform="translate(65.00 525.30) scale(0.64 1)" font-size="15.3" text-anchor="end" stroke="#231f20" stroke-width="0.32">15</text>
<line x1="67.00" y1="563.30" x2="70.00" y2="563.30" stroke="#231f20" stroke-width="1.4"/>
<text transform="translate(65.00 567.60) scale(0.64 1)" font-size="15.3" text-anchor="end" stroke="#231f20" stroke-width="0.32">10</text>
<line x1="67.00" y1="605.50" x2="70.00" y2="605.50" stroke="#231f20" stroke-width="1.4"/>
<text transform="translate(65.00 609.80) scale(0.64 1)" font-size="15.3" text-anchor="end" stroke="#231f20" stroke-width="0.32">5</text>
<line x1="67.00" y1="647.80" x2="70.00" y2="647.80" stroke="#231f20" stroke-width="1.4"/>
<text transform="translate(65.00 652.10) scale(0.64 1)" font-size="15.3" text-anchor="end" stroke="#231f20" stroke-width="0.32">0</text>
<text transform="translate(49.20 586.50) rotate(-90) scale(1 0.92)" font-size="13.2" text-anchor="middle" stroke="#231f20" stroke-width="0.22">Glucose (mM)</text>
<rect x="75.90" y="549.80" width="24.40" height="98.00" fill="#231f20"/>
<line x1="88.10" y1="545.20" x2="88.10" y2="550.80" stroke="#231f20" stroke-width="1.65"/>
<line x1="82.20" y1="545.20" x2="94.00" y2="545.20" stroke="#231f20" stroke-width="1.65"/>
<rect x="112.00" y="572.10" width="24.30" height="75.70" fill="#231f20"/>
<line x1="124.15" y1="566.50" x2="124.15" y2="573.10" stroke="#231f20" stroke-width="1.65"/>
<line x1="118.25" y1="566.50" x2="130.05" y2="566.50" stroke="#231f20" stroke-width="1.65"/>
<rect x="148.10" y="587.00" width="23.90" height="60.80" fill="#231f20"/>
<line x1="160.05" y1="582.00" x2="160.05" y2="588.00" stroke="#231f20" stroke-width="1.65"/>
<line x1="154.15" y1="582.00" x2="165.95" y2="582.00" stroke="#231f20" stroke-width="1.65"/>
<rect x="183.80" y="643.40" width="24.50" height="4.40" fill="#231f20"/>
<line x1="196.05" y1="640.90" x2="196.05" y2="644.40" stroke="#231f20" stroke-width="1.65"/>
<line x1="190.15" y1="640.90" x2="201.95" y2="640.90" stroke="#231f20" stroke-width="1.65"/>
<line x1="88.00" y1="647.80" x2="88.00" y2="651.00" stroke="#231f20" stroke-width="1.4"/>
<line x1="123.80" y1="647.80" x2="123.80" y2="651.00" stroke="#231f20" stroke-width="1.4"/>
<line x1="160.20" y1="647.80" x2="160.20" y2="651.00" stroke="#231f20" stroke-width="1.4"/>
<line x1="196.40" y1="647.80" x2="196.40" y2="651.00" stroke="#231f20" stroke-width="1.4"/>
<line x1="127.00" y1="542.00" x2="195.40" y2="542.00" stroke="#231f20" stroke-width="1.8"/>
<text transform="translate(160.20 541.26)" font-size="12.6" text-anchor="middle" font-weight="bold">***</text>
<line x1="162.70" y1="555.00" x2="195.40" y2="555.00" stroke="#231f20" stroke-width="1.8"/>
<text transform="translate(179.10 554.26)" font-size="12.6" text-anchor="middle" font-weight="bold">***</text>
<text transform="translate(80.80 665.70) scale(0.885 1)" font-size="12.4" text-anchor="end">Anti-CD3/CD28</text>
<text transform="translate(88.00 667.30) scale(0.88 1)" font-size="13" text-anchor="middle">-</text>
<text transform="translate(123.80 667.30) scale(0.88 1)" font-size="13" text-anchor="middle">+</text>
<text transform="translate(160.20 667.30) scale(0.88 1)" font-size="13" text-anchor="middle">+</text>
<text transform="translate(196.40 667.30) scale(0.88 1)" font-size="13" text-anchor="middle">+</text>
<text transform="translate(80.80 682.70) scale(0.885 1)" font-size="12.4" text-anchor="end">Resting B cells</text>
<text transform="translate(88.00 683.90) scale(0.88 1)" font-size="13" text-anchor="middle">-</text>
<text transform="translate(123.80 683.90) scale(0.88 1)" font-size="13" text-anchor="middle">-</text>
<text transform="translate(160.20 683.90) scale(0.88 1)" font-size="13" text-anchor="middle">+</text>
<text transform="translate(196.40 683.90) scale(0.88 1)" font-size="13" text-anchor="middle">-</text>
<text transform="translate(80.80 700.10) scale(0.885 1)" font-size="12.4" text-anchor="end">Activated B cells</text>
<text transform="translate(88.00 700.40) scale(0.88 1)" font-size="13" text-anchor="middle">-</text>
<text transform="translate(123.80 700.40) scale(0.88 1)" font-size="13" text-anchor="middle">-</text>
<text transform="translate(160.20 700.40) scale(0.88 1)" font-size="13" text-anchor="middle">-</text>
<text transform="translate(196.40 700.40) scale(0.88 1)" font-size="13" text-anchor="middle">+</text>
<text transform="translate(247.60 512.80) scale(0.92 1)" font-size="15.2" font-weight="bold" stroke="#231f20" stroke-width="0.45">I</text>
<line x1="281.80" y1="645.20" x2="425.50" y2="645.20" stroke="#231f20" stroke-width="1.4"/>
<line x1="282.50" y1="522.60" x2="282.50" y2="645.90" stroke="#231f20" stroke-width="1.4"/>
<line x1="279.50" y1="523.30" x2="282.50" y2="523.30" stroke="#231f20" stroke-width="1.4"/>
<text transform="translate(278.60 527.60) scale(0.64 1)" font-size="15.3" text-anchor="end" stroke="#231f20" stroke-width="0.32">25</text>
<line x1="279.50" y1="547.70" x2="282.50" y2="547.70" stroke="#231f20" stroke-width="1.4"/>
<text transform="translate(278.60 552.00) scale(0.64 1)" font-size="15.3" text-anchor="end" stroke="#231f20" stroke-width="0.32">20</text>
<line x1="279.50" y1="572.10" x2="282.50" y2="572.10" stroke="#231f20" stroke-width="1.4"/>
<text transform="translate(278.60 576.40) scale(0.64 1)" font-size="15.3" text-anchor="end" stroke="#231f20" stroke-width="0.32">15</text>
<line x1="279.50" y1="596.40" x2="282.50" y2="596.40" stroke="#231f20" stroke-width="1.4"/>
<text transform="translate(278.60 600.70) scale(0.64 1)" font-size="15.3" text-anchor="end" stroke="#231f20" stroke-width="0.32">10</text>
<line x1="279.50" y1="620.80" x2="282.50" y2="620.80" stroke="#231f20" stroke-width="1.4"/>
<text transform="translate(278.60 625.10) scale(0.64 1)" font-size="15.3" text-anchor="end" stroke="#231f20" stroke-width="0.32">5</text>
<line x1="279.50" y1="645.20" x2="282.50" y2="645.20" stroke="#231f20" stroke-width="1.4"/>
<text transform="translate(278.60 649.50) scale(0.64 1)" font-size="15.3" text-anchor="end" stroke="#231f20" stroke-width="0.32">0</text>
<text transform="translate(261.80 583.00) rotate(-90) scale(1 0.92)" font-size="13.2" text-anchor="middle" stroke="#231f20" stroke-width="0.22">L-Lactate (mM)</text>
<rect x="324.30" y="621.10" width="24.20" height="24.10" fill="#231f20"/>
<line x1="336.40" y1="618.00" x2="336.40" y2="622.10" stroke="#231f20" stroke-width="1.65"/>
<line x1="330.50" y1="618.00" x2="342.30" y2="618.00" stroke="#231f20" stroke-width="1.65"/>
<rect x="360.60" y="610.90" width="24.10" height="34.30" fill="#231f20"/>
<line x1="372.65" y1="606.20" x2="372.65" y2="611.90" stroke="#231f20" stroke-width="1.65"/>
<line x1="366.75" y1="606.20" x2="378.55" y2="606.20" stroke="#231f20" stroke-width="1.65"/>
<rect x="396.50" y="555.10" width="24.50" height="90.10" fill="#231f20"/>
<line x1="408.75" y1="546.70" x2="408.75" y2="556.10" stroke="#231f20" stroke-width="1.65"/>
<line x1="402.85" y1="546.70" x2="414.65" y2="546.70" stroke="#231f20" stroke-width="1.65"/>
<line x1="301.60" y1="645.20" x2="301.60" y2="648.40" stroke="#231f20" stroke-width="1.4"/>
<line x1="337.30" y1="645.20" x2="337.30" y2="648.40" stroke="#231f20" stroke-width="1.4"/>
<line x1="373.30" y1="645.20" x2="373.30" y2="648.40" stroke="#231f20" stroke-width="1.4"/>
<line x1="409.50" y1="645.20" x2="409.50" y2="648.40" stroke="#231f20" stroke-width="1.4"/>
<line x1="338.20" y1="520.00" x2="412.00" y2="520.00" stroke="#231f20" stroke-width="1.8"/>
<text transform="translate(375.40 520.46)" font-size="12.6" text-anchor="middle" font-weight="bold">***</text>
<line x1="373.90" y1="534.90" x2="408.00" y2="534.90" stroke="#231f20" stroke-width="1.8"/>
<text transform="translate(390.00 535.16)" font-size="12.6" text-anchor="middle" font-weight="bold">**</text>
<text transform="translate(293.40 664.60) scale(0.885 1)" font-size="12.4" text-anchor="end">Anti-CD3/CD28</text>
<text transform="translate(301.60 666.20) scale(0.88 1)" font-size="13" text-anchor="middle">-</text>
<text transform="translate(337.30 666.20) scale(0.88 1)" font-size="13" text-anchor="middle">+</text>
<text transform="translate(373.30 666.20) scale(0.88 1)" font-size="13" text-anchor="middle">+</text>
<text transform="translate(409.50 666.20) scale(0.88 1)" font-size="13" text-anchor="middle">+</text>
<text transform="translate(293.40 681.60) scale(0.885 1)" font-size="12.4" text-anchor="end">Resting B cells</text>
<text transform="translate(301.60 682.80) scale(0.88 1)" font-size="13" text-anchor="middle">-</text>
<text transform="translate(337.30 682.80) scale(0.88 1)" font-size="13" text-anchor="middle">-</text>
<text transform="translate(373.30 682.80) scale(0.88 1)" font-size="13" text-anchor="middle">+</text>
<text transform="translate(409.50 682.80) scale(0.88 1)" font-size="13" text-anchor="middle">-</text>
<text transform="translate(293.40 698.70) scale(0.885 1)" font-size="12.4" text-anchor="end">Activated B cells</text>
<text transform="translate(301.60 699.30) scale(0.88 1)" font-size="13" text-anchor="middle">-</text>
<text transform="translate(337.30 699.30) scale(0.88 1)" font-size="13" text-anchor="middle">-</text>
<text transform="translate(373.30 699.30) scale(0.88 1)" font-size="13" text-anchor="middle">-</text>
<text transform="translate(409.50 699.30) scale(0.88 1)" font-size="13" text-anchor="middle">+</text>
<text transform="translate(439.00 512.80) scale(0.92 1)" font-size="15.2" font-weight="bold" stroke="#231f20" stroke-width="0.45">J</text>
<line x1="453.20" y1="581.40" x2="453.20" y2="521.80" stroke="#231f20" stroke-width="1.7"/>
<polygon points="453.20,516.30 456.00,522.80 450.40,522.80" fill="#231f20"/>
<text transform="translate(456.20 614.70) rotate(-90) scale(1 0.9)" font-size="13" text-anchor="middle">% of Max</text>
<rect x="477.60" y="515.60" width="137.30" height="118.30" fill="none" stroke="#8f9193" stroke-width="0.8"/>
<polygon points="502.27,633.94 503.33,631.82 505.44,610.69 507.56,578.98 509.67,543.05 511.15,528.25 512.42,523.60 513.90,530.36 515.38,547.27 517.07,574.75 519.18,606.46 521.72,627.60 524.47,633.73 524.47,633.94" fill="#c6c8ca" stroke="#444" stroke-width="1.0" stroke-linejoin="round"/>
<polyline points="502.27,633.94 507.56,625.48 510.73,617.03 514.96,608.57 519.18,600.12 522.35,595.89 524.05,597.16 525.53,594.20 527.64,592.09 530.81,587.44 533.98,576.87 536.09,557.84 539.26,538.82 542.01,526.14 544.13,526.56 545.61,534.59 547.72,553.62 549.83,574.75 551.95,595.89 555.12,619.14 558.29,630.77 562.52,633.94" fill="none" stroke="#333" stroke-width="1.1" stroke-linejoin="round"/>
<polyline points="505.44,631.82 509.04,610.69 511.15,578.98 513.27,547.27 515.38,528.25 517.07,524.45 520.24,526.14 521.30,543.05 523.41,564.18 525.95,589.55 528.70,610.69 531.87,625.48 536.09,631.82 540.32,633.94" fill="none" stroke="#2c2c2c" stroke-width="1.3" stroke-dasharray="11 8" stroke-linejoin="round"/>
<polyline points="505.44,632.88 510.73,606.46 513.90,578.98 517.07,547.27 519.18,532.48 521.72,527.19 525.95,527.83 527.64,538.82 529.75,543.05 531.87,559.96 533.98,576.87 537.15,598.00 540.32,617.03 543.49,627.60 547.72,632.88 550.89,633.94" fill="none" stroke="#333" stroke-width="1.0" stroke-dasharray="1 0.9" stroke-linejoin="round"/>
<line x1="477.60" y1="515.60" x2="477.60" y2="634.50" stroke="#3a3a3c" stroke-width="1.2"/>
<line x1="477.00" y1="633.90" x2="614.90" y2="633.90" stroke="#3a3a3c" stroke-width="1.3"/>
<line x1="474.00" y1="521.30" x2="477.60" y2="521.30" stroke="#3a3a3c" stroke-width="1"/>
<text transform="translate(473.00 522.90)" font-size="4.5" text-anchor="end" font-weight="bold" fill="#2e2e30">100</text>
<line x1="475.90" y1="526.90" x2="477.60" y2="526.90" stroke="#3a3a3c" stroke-width="0.7"/>
<line x1="475.90" y1="532.50" x2="477.60" y2="532.50" stroke="#3a3a3c" stroke-width="0.7"/>
<line x1="475.90" y1="538.10" x2="477.60" y2="538.10" stroke="#3a3a3c" stroke-width="0.7"/>
<line x1="474.00" y1="543.70" x2="477.60" y2="543.70" stroke="#3a3a3c" stroke-width="1"/>
<text transform="translate(473.00 545.30)" font-size="4.5" text-anchor="end" font-weight="bold" fill="#2e2e30">80</text>
<line x1="475.90" y1="549.30" x2="477.60" y2="549.30" stroke="#3a3a3c" stroke-width="0.7"/>
<line x1="475.90" y1="554.90" x2="477.60" y2="554.90" stroke="#3a3a3c" stroke-width="0.7"/>
<line x1="475.90" y1="560.50" x2="477.60" y2="560.50" stroke="#3a3a3c" stroke-width="0.7"/>
<line x1="474.00" y1="566.10" x2="477.60" y2="566.10" stroke="#3a3a3c" stroke-width="1"/>
<text transform="translate(473.00 567.70)" font-size="4.5" text-anchor="end" font-weight="bold" fill="#2e2e30">60</text>
<line x1="475.90" y1="571.70" x2="477.60" y2="571.70" stroke="#3a3a3c" stroke-width="0.7"/>
<line x1="475.90" y1="577.30" x2="477.60" y2="577.30" stroke="#3a3a3c" stroke-width="0.7"/>
<line x1="475.90" y1="582.90" x2="477.60" y2="582.90" stroke="#3a3a3c" stroke-width="0.7"/>
<line x1="474.00" y1="588.50" x2="477.60" y2="588.50" stroke="#3a3a3c" stroke-width="1"/>
<text transform="translate(473.00 590.10)" font-size="4.5" text-anchor="end" font-weight="bold" fill="#2e2e30">40</text>
<line x1="475.90" y1="594.10" x2="477.60" y2="594.10" stroke="#3a3a3c" stroke-width="0.7"/>
<line x1="475.90" y1="599.70" x2="477.60" y2="599.70" stroke="#3a3a3c" stroke-width="0.7"/>
<line x1="475.90" y1="605.30" x2="477.60" y2="605.30" stroke="#3a3a3c" stroke-width="0.7"/>
<line x1="474.00" y1="610.90" x2="477.60" y2="610.90" stroke="#3a3a3c" stroke-width="1"/>
<text transform="translate(473.00 612.50)" font-size="4.5" text-anchor="end" font-weight="bold" fill="#2e2e30">20</text>
<line x1="475.90" y1="616.50" x2="477.60" y2="616.50" stroke="#3a3a3c" stroke-width="0.7"/>
<line x1="475.90" y1="622.10" x2="477.60" y2="622.10" stroke="#3a3a3c" stroke-width="0.7"/>
<line x1="475.90" y1="627.70" x2="477.60" y2="627.70" stroke="#3a3a3c" stroke-width="0.7"/>
<line x1="474.00" y1="633.30" x2="477.60" y2="633.30" stroke="#3a3a3c" stroke-width="1"/>
<text transform="translate(473.00 634.90)" font-size="4.5" text-anchor="end" font-weight="bold" fill="#2e2e30">0</text>
<text transform="translate(484.70 644.60)" font-size="5" font-weight="bold" text-anchor="middle" fill="#2e2e30">-10<tspan font-size="3.6" dy="-2">3</tspan></text>
<line x1="483.20" y1="633.90" x2="483.20" y2="637.10" stroke="#3a3a3c" stroke-width="1"/>
<text transform="translate(511.60 644.60)" font-size="5" font-weight="bold" text-anchor="middle" fill="#2e2e30">0<tspan font-size="3.6" dy="-2"></tspan></text>
<line x1="511.60" y1="633.90" x2="511.60" y2="637.10" stroke="#3a3a3c" stroke-width="1"/>
<text transform="translate(543.40 644.60)" font-size="5" font-weight="bold" text-anchor="middle" fill="#2e2e30">10<tspan font-size="3.6" dy="-2">3</tspan></text>
<line x1="541.90" y1="633.90" x2="541.90" y2="637.10" stroke="#3a3a3c" stroke-width="1"/>
<text transform="translate(585.20 644.60)" font-size="5" font-weight="bold" text-anchor="middle" fill="#2e2e30">10<tspan font-size="3.6" dy="-2">4</tspan></text>
<line x1="583.70" y1="633.90" x2="583.70" y2="637.10" stroke="#3a3a3c" stroke-width="1"/>
<line x1="479.10" y1="633.90" x2="479.10" y2="635.80" stroke="#3a3a3c" stroke-width="0.7"/>
<line x1="482.20" y1="633.90" x2="482.20" y2="635.80" stroke="#3a3a3c" stroke-width="0.7"/>
<line x1="485.30" y1="633.90" x2="485.30" y2="635.80" stroke="#3a3a3c" stroke-width="0.7"/>
<line x1="488.40" y1="633.90" x2="488.40" y2="635.80" stroke="#3a3a3c" stroke-width="0.7"/>
<line x1="491.50" y1="633.90" x2="491.50" y2="635.80" stroke="#3a3a3c" stroke-width="0.7"/>
<line x1="494.60" y1="633.90" x2="494.60" y2="635.80" stroke="#3a3a3c" stroke-width="0.7"/>
<line x1="497.70" y1="633.90" x2="497.70" y2="635.80" stroke="#3a3a3c" stroke-width="0.7"/>
<line x1="500.80" y1="633.90" x2="500.80" y2="635.80" stroke="#3a3a3c" stroke-width="0.7"/>
<line x1="503.90" y1="633.90" x2="503.90" y2="635.80" stroke="#3a3a3c" stroke-width="0.7"/>
<line x1="507.00" y1="633.90" x2="507.00" y2="635.80" stroke="#3a3a3c" stroke-width="0.7"/>
<line x1="510.10" y1="633.90" x2="510.10" y2="635.80" stroke="#3a3a3c" stroke-width="0.7"/>
<line x1="513.20" y1="633.90" x2="513.20" y2="635.80" stroke="#3a3a3c" stroke-width="0.7"/>
<line x1="516.30" y1="633.90" x2="516.30" y2="635.80" stroke="#3a3a3c" stroke-width="0.7"/>
<line x1="519.40" y1="633.90" x2="519.40" y2="635.80" stroke="#3a3a3c" stroke-width="0.7"/>
<line x1="522.50" y1="633.90" x2="522.50" y2="635.80" stroke="#3a3a3c" stroke-width="0.7"/>
<line x1="525.60" y1="633.90" x2="525.60" y2="635.80" stroke="#3a3a3c" stroke-width="0.7"/>
<line x1="528.70" y1="633.90" x2="528.70" y2="635.80" stroke="#3a3a3c" stroke-width="0.7"/>
<line x1="531.80" y1="633.90" x2="531.80" y2="635.80" stroke="#3a3a3c" stroke-width="0.7"/>
<line x1="534.90" y1="633.90" x2="534.90" y2="635.80" stroke="#3a3a3c" stroke-width="0.7"/>
<line x1="538.00" y1="633.90" x2="538.00" y2="635.80" stroke="#3a3a3c" stroke-width="0.7"/>
<line x1="541.10" y1="633.90" x2="541.10" y2="635.80" stroke="#3a3a3c" stroke-width="0.7"/>
<line x1="544.20" y1="633.90" x2="544.20" y2="635.80" stroke="#3a3a3c" stroke-width="0.7"/>
<line x1="547.30" y1="633.90" x2="547.30" y2="635.80" stroke="#3a3a3c" stroke-width="0.7"/>
<line x1="550.40" y1="633.90" x2="550.40" y2="635.80" stroke="#3a3a3c" stroke-width="0.7"/>
<line x1="553.50" y1="633.90" x2="553.50" y2="635.80" stroke="#3a3a3c" stroke-width="0.7"/>
<line x1="556.60" y1="633.90" x2="556.60" y2="635.80" stroke="#3a3a3c" stroke-width="0.7"/>
<line x1="559.70" y1="633.90" x2="559.70" y2="635.80" stroke="#3a3a3c" stroke-width="0.7"/>
<line x1="562.80" y1="633.90" x2="562.80" y2="635.80" stroke="#3a3a3c" stroke-width="0.7"/>
<line x1="565.90" y1="633.90" x2="565.90" y2="635.80" stroke="#3a3a3c" stroke-width="0.7"/>
<line x1="569.00" y1="633.90" x2="569.00" y2="635.80" stroke="#3a3a3c" stroke-width="0.7"/>
<line x1="572.10" y1="633.90" x2="572.10" y2="635.80" stroke="#3a3a3c" stroke-width="0.7"/>
<line x1="575.20" y1="633.90" x2="575.20" y2="635.80" stroke="#3a3a3c" stroke-width="0.7"/>
<line x1="578.30" y1="633.90" x2="578.30" y2="635.80" stroke="#3a3a3c" stroke-width="0.7"/>
<line x1="581.40" y1="633.90" x2="581.40" y2="635.80" stroke="#3a3a3c" stroke-width="0.7"/>
<line x1="584.50" y1="633.90" x2="584.50" y2="635.80" stroke="#3a3a3c" stroke-width="0.7"/>
<line x1="587.60" y1="633.90" x2="587.60" y2="635.80" stroke="#3a3a3c" stroke-width="0.7"/>
<line x1="590.70" y1="633.90" x2="590.70" y2="635.80" stroke="#3a3a3c" stroke-width="0.7"/>
<line x1="593.80" y1="633.90" x2="593.80" y2="635.80" stroke="#3a3a3c" stroke-width="0.7"/>
<line x1="596.90" y1="633.90" x2="596.90" y2="635.80" stroke="#3a3a3c" stroke-width="0.7"/>
<line x1="600.00" y1="633.90" x2="600.00" y2="635.80" stroke="#3a3a3c" stroke-width="0.7"/>
<line x1="603.10" y1="633.90" x2="603.10" y2="635.80" stroke="#3a3a3c" stroke-width="0.7"/>
<line x1="606.20" y1="633.90" x2="606.20" y2="635.80" stroke="#3a3a3c" stroke-width="0.7"/>
<line x1="609.30" y1="633.90" x2="609.30" y2="635.80" stroke="#3a3a3c" stroke-width="0.7"/>
<line x1="612.40" y1="633.90" x2="612.40" y2="635.80" stroke="#3a3a3c" stroke-width="0.7"/>
<rect x="651.60" y="515.60" width="136.50" height="118.30" fill="none" stroke="#8f9193" stroke-width="0.8"/>
<polygon points="670.82,633.94 672.09,632.67 674.20,623.37 675.89,600.12 677.16,568.41 678.22,536.71 679.27,522.97 680.33,534.59 681.39,564.18 682.66,593.78 684.14,617.03 685.62,629.71 687.73,633.94" fill="#c6c8ca" stroke="#444" stroke-width="1.0" stroke-linejoin="round"/>
<polyline points="669.76,633.94 673.99,629.71 677.16,614.91 679.27,593.78 681.39,574.75 683.50,569.47 685.62,574.75 686.67,583.21 689.84,586.38 692.38,585.32 694.49,587.44 697.24,581.09 700.41,575.81 703.58,570.53 705.70,562.07 708.87,553.62 712.04,546.22 714.15,545.16 715.63,551.50 717.32,543.05 720.49,540.93 722.61,533.54 724.72,535.65 727.47,529.31 728.95,536.71 731.06,538.82 733.17,543.05 735.29,557.84 737.40,578.98 739.52,604.34 741.63,623.37 743.74,630.77 746.91,633.94" fill="none" stroke="#333" stroke-width="1.1" stroke-linejoin="round"/>
<polyline points="671.88,633.51 676.10,623.37 679.27,593.78 681.39,557.84 683.50,532.48 685.62,522.97 687.73,525.08 689.42,543.05 691.53,562.07 693.65,578.98 696.18,595.89 699.35,610.69 702.53,621.25 706.75,627.60 713.09,631.82 718.38,633.51" fill="none" stroke="#2c2c2c" stroke-width="1.3" stroke-dasharray="11 8" stroke-linejoin="round"/>
<polyline points="673.99,633.51 679.27,614.91 683.50,589.55 687.73,564.18 690.90,547.27 694.07,534.59 697.24,526.14 700.41,532.48 702.53,540.93 704.64,559.96 707.81,578.98 710.98,598.00 714.15,612.80 717.32,623.37 721.55,629.71 726.83,632.88 730.00,633.94" fill="none" stroke="#333" stroke-width="1.0" stroke-dasharray="1 0.9" stroke-linejoin="round"/>
<line x1="651.60" y1="515.60" x2="651.60" y2="634.50" stroke="#3a3a3c" stroke-width="1.2"/>
<line x1="651.00" y1="633.90" x2="788.10" y2="633.90" stroke="#3a3a3c" stroke-width="1.3"/>
<line x1="648.00" y1="521.30" x2="651.60" y2="521.30" stroke="#3a3a3c" stroke-width="1"/>
<text transform="translate(647.00 522.90)" font-size="4.5" text-anchor="end" font-weight="bold" fill="#2e2e30">100</text>
<line x1="649.90" y1="526.90" x2="651.60" y2="526.90" stroke="#3a3a3c" stroke-width="0.7"/>
<line x1="649.90" y1="532.50" x2="651.60" y2="532.50" stroke="#3a3a3c" stroke-width="0.7"/>
<line x1="649.90" y1="538.10" x2="651.60" y2="538.10" stroke="#3a3a3c" stroke-width="0.7"/>
<line x1="648.00" y1="543.70" x2="651.60" y2="543.70" stroke="#3a3a3c" stroke-width="1"/>
<text transform="translate(647.00 545.30)" font-size="4.5" text-anchor="end" font-weight="bold" fill="#2e2e30">80</text>
<line x1="649.90" y1="549.30" x2="651.60" y2="549.30" stroke="#3a3a3c" stroke-width="0.7"/>
<line x1="649.90" y1="554.90" x2="651.60" y2="554.90" stroke="#3a3a3c" stroke-width="0.7"/>
<line x1="649.90" y1="560.50" x2="651.60" y2="560.50" stroke="#3a3a3c" stroke-width="0.7"/>
<line x1="648.00" y1="566.10" x2="651.60" y2="566.10" stroke="#3a3a3c" stroke-width="1"/>
<text transform="translate(647.00 567.70)" font-size="4.5" text-anchor="end" font-weight="bold" fill="#2e2e30">60</text>
<line x1="649.90" y1="571.70" x2="651.60" y2="571.70" stroke="#3a3a3c" stroke-width="0.7"/>
<line x1="649.90" y1="577.30" x2="651.60" y2="577.30" stroke="#3a3a3c" stroke-width="0.7"/>
<line x1="649.90" y1="582.90" x2="651.60" y2="582.90" stroke="#3a3a3c" stroke-width="0.7"/>
<line x1="648.00" y1="588.50" x2="651.60" y2="588.50" stroke="#3a3a3c" stroke-width="1"/>
<text transform="translate(647.00 590.10)" font-size="4.5" text-anchor="end" font-weight="bold" fill="#2e2e30">40</text>
<line x1="649.90" y1="594.10" x2="651.60" y2="594.10" stroke="#3a3a3c" stroke-width="0.7"/>
<line x1="649.90" y1="599.70" x2="651.60" y2="599.70" stroke="#3a3a3c" stroke-width="0.7"/>
<line x1="649.90" y1="605.30" x2="651.60" y2="605.30" stroke="#3a3a3c" stroke-width="0.7"/>
<line x1="648.00" y1="610.90" x2="651.60" y2="610.90" stroke="#3a3a3c" stroke-width="1"/>
<text transform="translate(647.00 612.50)" font-size="4.5" text-anchor="end" font-weight="bold" fill="#2e2e30">20</text>
<line x1="649.90" y1="616.50" x2="651.60" y2="616.50" stroke="#3a3a3c" stroke-width="0.7"/>
<line x1="649.90" y1="622.10" x2="651.60" y2="622.10" stroke="#3a3a3c" stroke-width="0.7"/>
<line x1="649.90" y1="627.70" x2="651.60" y2="627.70" stroke="#3a3a3c" stroke-width="0.7"/>
<line x1="648.00" y1="633.30" x2="651.60" y2="633.30" stroke="#3a3a3c" stroke-width="1"/>
<text transform="translate(647.00 634.90)" font-size="4.5" text-anchor="end" font-weight="bold" fill="#2e2e30">0</text>
<text transform="translate(676.90 644.60)" font-size="5" font-weight="bold" text-anchor="middle" fill="#2e2e30">0<tspan font-size="3.6" dy="-2"></tspan></text>
<line x1="676.90" y1="633.90" x2="676.90" y2="637.10" stroke="#3a3a3c" stroke-width="1"/>
<text transform="translate(712.00 644.60)" font-size="5" font-weight="bold" text-anchor="middle" fill="#2e2e30">10<tspan font-size="3.6" dy="-2">3</tspan></text>
<line x1="710.50" y1="633.90" x2="710.50" y2="637.10" stroke="#3a3a3c" stroke-width="1"/>
<text transform="translate(746.20 644.60)" font-size="5" font-weight="bold" text-anchor="middle" fill="#2e2e30">10<tspan font-size="3.6" dy="-2">4</tspan></text>
<line x1="744.70" y1="633.90" x2="744.70" y2="637.10" stroke="#3a3a3c" stroke-width="1"/>
<text transform="translate(778.20 644.60)" font-size="5" font-weight="bold" text-anchor="middle" fill="#2e2e30">10<tspan font-size="3.6" dy="-2">5</tspan></text>
<line x1="776.70" y1="633.90" x2="776.70" y2="637.10" stroke="#3a3a3c" stroke-width="1"/>
<line x1="653.10" y1="633.90" x2="653.10" y2="635.80" stroke="#3a3a3c" stroke-width="0.7"/>
<line x1="656.20" y1="633.90" x2="656.20" y2="635.80" stroke="#3a3a3c" stroke-width="0.7"/>
<line x1="659.30" y1="633.90" x2="659.30" y2="635.80" stroke="#3a3a3c" stroke-width="0.7"/>
<line x1="662.40" y1="633.90" x2="662.40" y2="635.80" stroke="#3a3a3c" stroke-width="0.7"/>
<line x1="665.50" y1="633.90" x2="665.50" y2="635.80" stroke="#3a3a3c" stroke-width="0.7"/>
<line x1="668.60" y1="633.90" x2="668.60" y2="635.80" stroke="#3a3a3c" stroke-width="0.7"/>
<line x1="671.70" y1="633.90" x2="671.70" y2="635.80" stroke="#3a3a3c" stroke-width="0.7"/>
<line x1="674.80" y1="633.90" x2="674.80" y2="635.80" stroke="#3a3a3c" stroke-width="0.7"/>
<line x1="677.90" y1="633.90" x2="677.90" y2="635.80" stroke="#3a3a3c" stroke-width="0.7"/>
<line x1="681.00" y1="633.90" x2="681.00" y2="635.80" stroke="#3a3a3c" stroke-width="0.7"/>
<line x1="684.10" y1="633.90" x2="684.10" y2="635.80" stroke="#3a3a3c" stroke-width="0.7"/>
<line x1="687.20" y1="633.90" x2="687.20" y2="635.80" stroke="#3a3a3c" stroke-width="0.7"/>
<line x1="690.30" y1="633.90" x2="690.30" y2="635.80" stroke="#3a3a3c" stroke-width="0.7"/>
<line x1="693.40" y1="633.90" x2="693.40" y2="635.80" stroke="#3a3a3c" stroke-width="0.7"/>
<line x1="696.50" y1="633.90" x2="696.50" y2="635.80" stroke="#3a3a3c" stroke-width="0.7"/>
<line x1="699.60" y1="633.90" x2="699.60" y2="635.80" stroke="#3a3a3c" stroke-width="0.7"/>
<line x1="702.70" y1="633.90" x2="702.70" y2="635.80" stroke="#3a3a3c" stroke-width="0.7"/>
<line x1="705.80" y1="633.90" x2="705.80" y2="635.80" stroke="#3a3a3c" stroke-width="0.7"/>
<line x1="708.90" y1="633.90" x2="708.90" y2="635.80" stroke="#3a3a3c" stroke-width="0.7"/>
<line x1="712.00" y1="633.90" x2="712.00" y2="635.80" stroke="#3a3a3c" stroke-width="0.7"/>
<line x1="715.10" y1="633.90" x2="715.10" y2="635.80" stroke="#3a3a3c" stroke-width="0.7"/>
<line x1="718.20" y1="633.90" x2="718.20" y2="635.80" stroke="#3a3a3c" stroke-width="0.7"/>
<line x1="721.30" y1="633.90" x2="721.30" y2="635.80" stroke="#3a3a3c" stroke-width="0.7"/>
<line x1="724.40" y1="633.90" x2="724.40" y2="635.80" stroke="#3a3a3c" stroke-width="0.7"/>
<line x1="727.50" y1="633.90" x2="727.50" y2="635.80" stroke="#3a3a3c" stroke-width="0.7"/>
<line x1="730.60" y1="633.90" x2="730.60" y2="635.80" stroke="#3a3a3c" stroke-width="0.7"/>
<line x1="733.70" y1="633.90" x2="733.70" y2="635.80" stroke="#3a3a3c" stroke-width="0.7"/>
<line x1="736.80" y1="633.90" x2="736.80" y2="635.80" stroke="#3a3a3c" stroke-width="0.7"/>
<line x1="739.90" y1="633.90" x2="739.90" y2="635.80" stroke="#3a3a3c" stroke-width="0.7"/>
<line x1="743.00" y1="633.90" x2="743.00" y2="635.80" stroke="#3a3a3c" stroke-width="0.7"/>
<line x1="746.10" y1="633.90" x2="746.10" y2="635.80" stroke="#3a3a3c" stroke-width="0.7"/>
<line x1="749.20" y1="633.90" x2="749.20" y2="635.80" stroke="#3a3a3c" stroke-width="0.7"/>
<line x1="752.30" y1="633.90" x2="752.30" y2="635.80" stroke="#3a3a3c" stroke-width="0.7"/>
<line x1="755.40" y1="633.90" x2="755.40" y2="635.80" stroke="#3a3a3c" stroke-width="0.7"/>
<line x1="758.50" y1="633.90" x2="758.50" y2="635.80" stroke="#3a3a3c" stroke-width="0.7"/>
<line x1="761.60" y1="633.90" x2="761.60" y2="635.80" stroke="#3a3a3c" stroke-width="0.7"/>
<line x1="764.70" y1="633.90" x2="764.70" y2="635.80" stroke="#3a3a3c" stroke-width="0.7"/>
<line x1="767.80" y1="633.90" x2="767.80" y2="635.80" stroke="#3a3a3c" stroke-width="0.7"/>
<line x1="770.90" y1="633.90" x2="770.90" y2="635.80" stroke="#3a3a3c" stroke-width="0.7"/>
<line x1="774.00" y1="633.90" x2="774.00" y2="635.80" stroke="#3a3a3c" stroke-width="0.7"/>
<line x1="777.10" y1="633.90" x2="777.10" y2="635.80" stroke="#3a3a3c" stroke-width="0.7"/>
<line x1="780.20" y1="633.90" x2="780.20" y2="635.80" stroke="#3a3a3c" stroke-width="0.7"/>
<line x1="783.30" y1="633.90" x2="783.30" y2="635.80" stroke="#3a3a3c" stroke-width="0.7"/>
<line x1="786.40" y1="633.90" x2="786.40" y2="635.80" stroke="#3a3a3c" stroke-width="0.7"/>
<text transform="translate(472.60 656.70)" font-size="13.2">p-mTOR</text>
<line x1="525.70" y1="653.20" x2="611.70" y2="653.20" stroke="#231f20" stroke-width="1.8"/>
<polygon points="617.20,653.20 610.70,656.00 610.70,650.40" fill="#231f20"/>
<text transform="translate(649.00 656.70)" font-size="13.2">p-S6</text>
<line x1="680.00" y1="653.20" x2="787.10" y2="653.20" stroke="#231f20" stroke-width="1.8"/>
<polygon points="792.60,653.20 786.10,656.00 786.10,650.40" fill="#231f20"/>
<rect x="480.10" y="666.90" width="17.60" height="4.90" fill="#fff" stroke="#231f20" stroke-width="1.1"/>
<line x1="480.00" y1="679.50" x2="486.40" y2="679.50" stroke="#231f20" stroke-width="1.2"/>
<line x1="490.40" y1="679.50" x2="498.00" y2="679.50" stroke="#231f20" stroke-width="1.2"/>
<line x1="480.00" y1="684.40" x2="486.40" y2="684.40" stroke="#231f20" stroke-width="1.2"/>
<line x1="490.40" y1="684.40" x2="498.00" y2="684.40" stroke="#231f20" stroke-width="1.2"/>
<line x1="480.30" y1="679.50" x2="480.30" y2="681.60" stroke="#231f20" stroke-width="1"/>
<rect x="480.10" y="692.00" width="17.60" height="4.90" fill="#fff" stroke="#231f20" stroke-width="0.9" stroke-dasharray="0.9 0.8"/>
<rect x="480.10" y="702.60" width="17.60" height="5.00" fill="#a9abae" stroke="#231f20" stroke-width="1.1"/>
<text transform="translate(503.60 671.60) scale(0.717 1)" font-size="13.4" stroke="#231f20" stroke-width="0.32">T cells</text>
<text transform="translate(503.60 685.90) scale(0.717 1)" font-size="13.4" stroke="#231f20" stroke-width="0.32">T cells + activated B cells (DMSO)</text>
<text transform="translate(503.60 698.30) scale(0.717 1)" font-size="13.4" stroke="#231f20" stroke-width="0.32">T cells + activated B cells (LDH inhibitor)</text>
<text transform="translate(503.60 709.40) scale(0.717 1)" font-size="13.4" stroke="#231f20" stroke-width="0.32">Unstimulated T cells</text>
</svg>
</body></html>
